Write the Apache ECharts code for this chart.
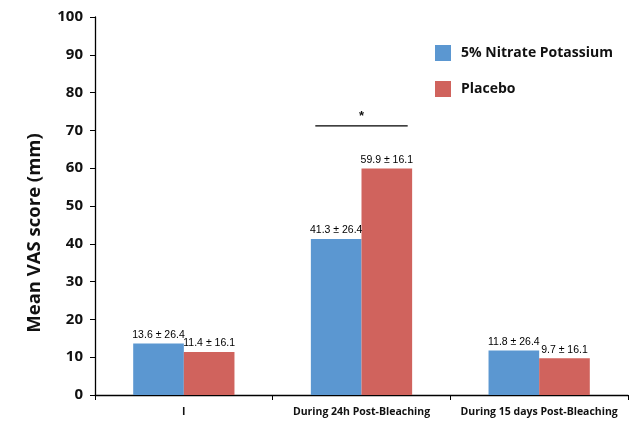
<!DOCTYPE html>
<html>
<head>
<meta charset="utf-8">
<script src="https://cdn.jsdelivr.net/npm/echarts@6/dist/echarts.min.js"></script>
<style>
  html, body { margin: 0; padding: 0; background: #fff; }
  #chart { width: 642px; height: 421px; }
</style>
</head>
<body>
<div id="chart"></div>
<script>
// Mean VAS pain scores by period and treatment group
const categories = ['I', 'During 24h Post-Bleaching', 'During 15 days Post-Bleaching'];
const nitrateMeans = [13.6, 41.3, 11.8];
const nitrateSD = [26.4, 26.4, 26.4];
const placeboMeans = [11.4, 59.9, 9.7];
const placeboSD = [16.1, 16.1, 16.1];
const yTicks = [0, 10, 20, 30, 40, 50, 60, 70, 80, 90, 100];
// significance bracket over the 24h group
const sigCategory = 1;
const sigLevel = 71.2;
const sigSymbol = '*';

const BLUE = '#5b97d1';
const RED = '#d0635d';
const tickFont = '"Open Sans", "DejaVu Sans", sans-serif';
const valueFont = '"Liberation Sans", Arial, sans-serif';

const chart = echarts.init(document.getElementById('chart'), null, { renderer: 'canvas' });

function labelFor(sd) {
  return {
    show: true,
    position: 'top',
    distance: 3,
    color: '#000',
    fontFamily: valueFont,
    fontSize: 10.5,
    formatter: p => p.value.toFixed(1) + ' \u00b1 ' + sd[p.dataIndex].toFixed(1)
  };
}

chart.setOption({
  animation: false,
  grid: { left: 95, right: 14, top: 17, bottom: 26, containLabel: false },
  legend: {
    orient: 'vertical',
    left: 430,
    top: 40,
    itemWidth: 16,
    itemHeight: 16,
    itemGap: 20,
    icon: 'rect',
    textStyle: { fontFamily: tickFont, fontWeight: 'bold', fontSize: 14, color: '#111', padding: [0, 0, 0, 5] },
    data: ['5% Nitrate Potassium', 'Placebo']
  },
  xAxis: {
    type: 'category',
    data: categories,
    axisLine: { lineStyle: { color: '#000', width: 1.3 } },
    axisTick: { show: true, length: 5, lineStyle: { color: '#000' } },
    axisLabel: { interval: 0, color: '#111', fontFamily: tickFont, fontWeight: 'bold', fontSize: 10.5, margin: 12 }
  },
  yAxis: {
    type: 'value',
    min: yTicks[0],
    max: yTicks[yTicks.length - 1],
    interval: yTicks[1] - yTicks[0],
    name: 'Mean VAS score (mm)',
    nameLocation: 'middle',
    nameGap: 51,
    nameTextStyle: { fontFamily: tickFont, fontWeight: 'bold', fontSize: 18.5, color: '#111', padding: [0, 54, 0, 0] },
    axisLine: { show: true, lineStyle: { color: '#000', width: 1.3 } },
    axisTick: { show: true, length: 5, lineStyle: { color: '#000' } },
    splitLine: { show: false },
    axisLabel: { color: '#111', fontFamily: tickFont, fontWeight: 'bold', fontSize: 15, margin: 12 }
  },
  series: [
    {
      name: '5% Nitrate Potassium',
      type: 'bar',
      data: nitrateMeans,
      itemStyle: { color: BLUE },
      barGap: '0%',
      barCategoryGap: '43%',
      label: labelFor(nitrateSD)
    },
    {
      name: 'Placebo',
      type: 'bar',
      data: placeboMeans,
      itemStyle: { color: RED },
      label: labelFor(placeboSD)
    }
  ]
});

// Bracket spanning both bars of the significant group
function drawBracket() {
  const center = chart.convertToPixel({ xAxisIndex: 0, yAxisIndex: 0 }, [sigCategory, sigLevel]);
  const band = chart.getModel().getComponent('xAxis', 0).axis.getBandWidth();
  const half = band * 0.26;
  chart.setOption({
    graphic: [
      {
        type: 'line',
        shape: { x1: center[0] - half, y1: center[1], x2: center[0] + half, y2: center[1] },
        style: { stroke: '#000', lineWidth: 1.2 }
      },
      {
        type: 'text',
        x: center[0],
        y: center[1] - 3,
        style: { text: sigSymbol, textAlign: 'center', textVerticalAlign: 'bottom', font: 'bold 13px ' + valueFont, fill: '#111' }
      }
    ]
  });
}
drawBracket();
</script>
</body>
</html>
